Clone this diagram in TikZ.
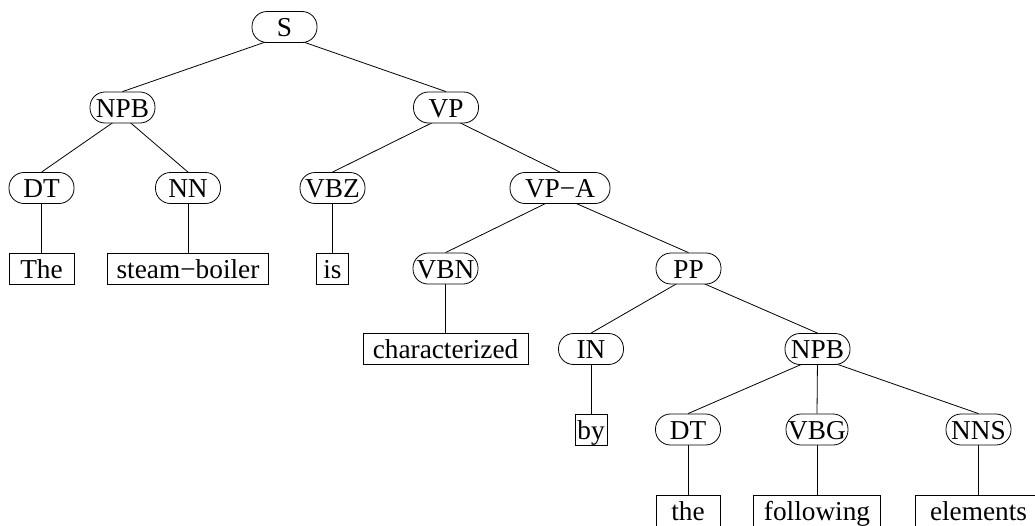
\documentclass[tikz,border=0pt]{standalone}
\usepackage{fontspec}
\setmainfont{Liberation Serif}
\pgfdeclarelayer{edges}
\pgfsetlayers{edges,main}
\begin{document}
\begin{tikzpicture}[x=1pt,y=-1pt,
  every node/.style={font=\fontsize{27.3pt}{30pt}\selectfont, text height=19pt,
    text depth=0pt, inner ysep=0pt, minimum height=31pt, line width=0.8pt},
  cat/.style={draw, fill=white, rounded corners=15pt, inner xsep=1pt, minimum width=65pt},
  word/.style={draw, fill=white, rounded corners=0pt, inner xsep=1pt, minimum width=#1},
  branch/.style={line width=0.8pt},
]
\useasboundingbox (0,0) rectangle (1035,525);
\clip (0,0) rectangle (1035,525);

% phrase and part-of-speech labels
\node[cat] (s)    at (284.5,27)  {S};
\node[cat] (npb)  at (122.5,107.5) {NPB};
\node[cat] (vp)   at (446,107.5) {VP};
\node[cat] (dt)   at (41.5,188)  {DT};
\node[cat] (nn)   at (188,188)   {NN};
\node[cat] (vbz)  at (332.5,188) {VBZ};
\node[cat, minimum width=100pt] (vpa) at (560,188) {VP−A};
\node[cat] (vbn)  at (445.5,268.5) {VBN};
\node[cat] (pp)   at (688.5,268.5) {PP};
\node[cat] (in)   at (591,349)   {IN};
\node[cat] (npbb) at (817.5,349) {NPB};
\node[cat] (dtb)  at (688,429.5) {DT};
\node[cat, minimum width=62pt] (vbg) at (817,429.5) {VBG};
\node[cat] (nns)  at (978.5,429.5) {NNS};

% words
\node[word=65pt]  (w1) at (41.5,268.5)  {The};
\node[word=161pt] (w2) at (188,268.5)   {steam−boiler};
\node[word=32pt]  (w3) at (332.5,268.5) {is};
\node[word=165pt] (w4) at (445.5,349)   {characterized};
\node[word=32pt]  (w5) at (591,429.5)   {by};
\node[word=64pt]  (w6) at (688,511)     {the};
\node[word=127pt] (w7) at (817,511)     {following};
\node[word=126pt] (w8) at (978.5,511)   {elements};

% branches, drawn beneath the labels
\begin{pgfonlayer}{edges}
  \foreach \p/\c in {s/npb, s/vp, npb/dt, npb/nn, vp/vbz, vp/vpa,
                     vpa/vbn, vpa/pp, pp/in, pp/npbb,
                     npbb/dtb, npbb/vbg, npbb/nns}
    \draw[branch] ([yshift=7.5pt]\p.south) -- (\c.north);
  \foreach \p/\c in {dt/w1, nn/w2, vbz/w3, vbn/w4, in/w5,
                     dtb/w6, vbg/w7, nns/w8}
    \draw[branch] (\p.south) -- (\c.north);
\end{pgfonlayer}
\end{tikzpicture}
\end{document}
